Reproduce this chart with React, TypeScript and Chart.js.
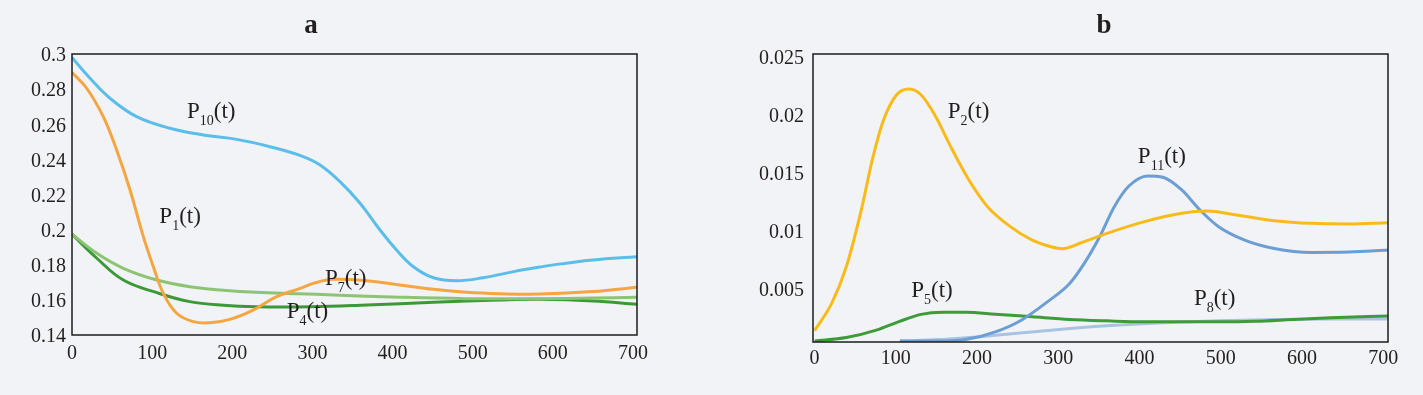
import React, { useEffect, useRef } from "react";
import { Chart, registerables } from "chart.js";

Chart.register(...registerables);

// ---------- tick labels ----------
const xTicks = [0, 100, 200, 300, 400, 500, 600, 700];
const yTicksA = [0.14, 0.16, 0.18, 0.2, 0.22, 0.24, 0.26, 0.28, 0.3];
const yTicksB = [0.005, 0.01, 0.015, 0.02, 0.025];

// ---------- panel a series ----------
const p10T = [0, 22.5, 47.4, 80.7, 122.3, 163.8, 205.5, 247, 286, 309.5, 334.4, 359.4, 384.3, 405, 426, 451, 480, 513, 551, 584, 610, 650, 705];
const p10V = [0.298, 0.2862, 0.2748, 0.2643, 0.2577, 0.2539, 0.2514, 0.2472, 0.242, 0.2368, 0.2273, 0.215, 0.1998, 0.1884, 0.1789, 0.1726, 0.1709, 0.1726, 0.1761, 0.1787, 0.1805, 0.1827, 0.1846];

const p1T = [0, 18.3, 39, 55.7, 72.4, 89, 101.5, 114, 130.6, 151.4, 172.2, 197, 226, 255.4, 284.5, 301, 326, 367.7, 409, 451, 492.5, 534, 584, 650, 705];
const p1V = [0.2895, 0.2805, 0.2643, 0.2453, 0.2226, 0.196, 0.1789, 0.1637, 0.1524, 0.1476, 0.147, 0.1489, 0.1542, 0.1618, 0.1665, 0.1694, 0.1717, 0.1709, 0.1685, 0.166, 0.1643, 0.1635, 0.1633, 0.1647, 0.1672];

const p7T = [0, 31, 64, 106, 147, 189, 230, 284, 326, 409, 492, 584, 650, 705];
const p7V = [0.1974, 0.1865, 0.178, 0.1713, 0.1675, 0.1655, 0.1643, 0.1635, 0.1628, 0.1615, 0.1607, 0.1607, 0.161, 0.1615];

const p4T = [0, 31, 64, 106, 147, 189, 230, 297, 368, 451, 534, 584, 650, 705];
const p4V = [0.1974, 0.1837, 0.1713, 0.1641, 0.159, 0.1569, 0.1561, 0.1561, 0.1571, 0.1586, 0.1599, 0.1603, 0.1594, 0.1575];

// ---------- panel b series ----------
const p2T = [0, 21, 39, 57.5, 71, 85, 101, 116, 131, 149, 167.5, 190, 213, 241, 268, 291, 305, 328, 360, 406, 452, 484, 520, 566, 612, 658, 706];
const p2V = [0.0016, 0.00394, 0.0071, 0.012, 0.01631, 0.01976, 0.02192, 0.02241, 0.02192, 0.02005, 0.01746, 0.01458, 0.01228, 0.01056, 0.0094, 0.00883, 0.00866, 0.00917, 0.00998, 0.01099, 0.01171, 0.01191, 0.01156, 0.01107, 0.01084, 0.01079, 0.0109];

const p11T = [105, 154, 186, 222.5, 254.5, 286.6, 314, 332, 351, 369, 387, 410, 429, 452, 474.5, 497.5, 529.5, 566, 612, 658, 706];
const p11V = [0.0007, 0.0007, 0.00083, 0.00149, 0.0025, 0.00408, 0.00566, 0.00739, 0.00969, 0.01228, 0.01406, 0.01493, 0.01481, 0.01372, 0.01199, 0.01055, 0.0094, 0.00868, 0.00834, 0.00837, 0.00854];

const p5T = [0, 39, 76, 103, 131, 158, 186, 222.5, 268, 314, 360, 406, 452, 497, 543, 589, 635, 706];
const p5V = [0.0007, 0.001, 0.00164, 0.00235, 0.003, 0.00318, 0.00318, 0.00302, 0.00279, 0.00256, 0.00244, 0.00236, 0.00236, 0.00236, 0.00241, 0.00256, 0.0027, 0.00287];

const p8T = [105, 154, 222.5, 291, 360, 429, 497, 566, 635, 706];
const p8V = [0.0007, 0.00083, 0.0012, 0.00164, 0.00201, 0.00227, 0.00244, 0.00256, 0.00261, 0.00261];

// ---------- curve labels (subscript, anchor in data units) ----------
const labelsA = [
  { sub: "10", t: 143.5, v: 0.2638 },
  { sub: "1", t: 109, v: 0.2036 },
  { sub: "7", t: 315.7, v: 0.1685 },
  { sub: "4", t: 268, v: 0.1495 },
];
const labelsB = [
  { sub: "2", t: 164, v: 0.01993 },
  { sub: "11", t: 398, v: 0.01602 },
  { sub: "5", t: 119, v: 0.00451 },
  { sub: "8", t: 467, v: 0.00379 },
];

const FONT = '"Liberation Serif", "DejaVu Serif", serif';
const TEXT = "#231f20";
const BG = "#f2f3f6";

const pts = (t: number[], v: number[]) => t.map((x, i) => ({ x, y: v[i] }));

const line = (label: string, t: number[], v: number[], color: string, smooth: "default" | "monotone") => ({
  label,
  data: pts(t, v),
  borderColor: color,
  backgroundColor: color,
  borderWidth: 3,
  pointRadius: 0,
  fill: false,
  tension: 0.4,
  cubicInterpolationMode: smooth,
});

function decor(title: string, titleX: number, labels: { sub: string; t: number; v: number }[]) {
  return {
    id: "decor" + title,
    afterDatasetsDraw(chart: any) {
      const { ctx, chartArea, scales } = chart;
      const { left, top, right, bottom } = chartArea;
      ctx.save();
      ctx.strokeStyle = "#1c1c1c";
      ctx.lineWidth = 1.5;
      ctx.strokeRect(left, top, right - left, bottom - top);
      ctx.fillStyle = TEXT;
      ctx.textBaseline = "alphabetic";
      ctx.textAlign = "left";
      for (const l of labels) {
        let px = scales.x.getPixelForValue(l.t);
        const py = scales.y.getPixelForValue(l.v);
        ctx.font = `23px ${FONT}`;
        ctx.fillText("P", px, py);
        px += ctx.measureText("P").width;
        ctx.font = `14px ${FONT}`;
        ctx.fillText(l.sub, px, py + 7);
        px += ctx.measureText(l.sub).width;
        ctx.font = `23px ${FONT}`;
        ctx.fillText("(t)", px, py);
      }
      ctx.font = `bold 27px ${FONT}`;
      ctx.textAlign = "center";
      ctx.fillText(title, titleX, 33);
      ctx.restore();
    },
  };
}

function makeOptions(p: {
  padRight: number;
  top: number;
  axisW: number;
  axisH: number;
  xMin: number;
  xMax: number;
  yMin: number;
  yMax: number;
  yTicks: number[];
  xPad: number;
  yPad: number;
  yLabelOffset: number;
}) {
  return {
    animation: false,
    responsive: false,
    events: [],
    layout: { padding: { left: 0, top: p.top, right: p.padRight, bottom: 0 } },
    plugins: { legend: { display: false }, tooltip: { enabled: false }, title: { display: false } },
    scales: {
      x: {
        type: "linear",
        min: p.xMin,
        max: p.xMax,
        grid: { display: false, drawTicks: false },
        border: { display: false },
        ticks: {
          padding: p.xPad,
          color: TEXT,
          font: { family: FONT, size: 20 },
          maxRotation: 0,
          callback: (v: number) => String(v),
        },
        afterBuildTicks: (s: any) => {
          s.ticks = xTicks.map((value) => ({ value }));
        },
        afterFit: (s: any) => {
          s.height = p.axisH;
        },
      },
      y: {
        type: "linear",
        min: p.yMin,
        max: p.yMax,
        grid: { display: false, drawTicks: false },
        border: { display: false },
        ticks: {
          padding: p.yPad,
          labelOffset: p.yLabelOffset,
          color: TEXT,
          font: { family: FONT, size: 20 },
          callback: (v: number) => String(+v.toFixed(4)),
        },
        afterBuildTicks: (s: any) => {
          s.ticks = p.yTicks.map((value) => ({ value }));
        },
        afterFit: (s: any) => {
          s.width = p.axisW;
        },
      },
    },
  };
}

export default function App() {
  const refA = useRef<HTMLCanvasElement>(null);
  const refB = useRef<HTMLCanvasElement>(null);

  useEffect(() => {
    document.body.style.background = BG;
    const chartA = new Chart(refA.current as HTMLCanvasElement, {
      type: "line",
      data: {
        datasets: [
          line("P10(t)", p10T, p10V, "#5bbdea", "default"),
          line("P1(t)", p1T, p1V, "#f5a542", "default"),
          line("P7(t)", p7T, p7V, "#8cc474", "default"),
          line("P4(t)", p4T, p4V, "#3b9a37", "default"),
        ],
      },
      options: makeOptions({
        padRight: 74,
        top: 54,
        axisW: 72,
        axisH: 60,
        xMin: 0,
        xMax: 705,
        yMin: 0.14,
        yMax: 0.3,
        yTicks: yTicksA,
        xPad: 7,
        yPad: 6,
        yLabelOffset: 2,
      }) as any,
      plugins: [decor("a", 311, labelsA)],
    });
    const chartB = new Chart(refB.current as HTMLCanvasElement, {
      type: "line",
      data: {
        datasets: [
          line("P2(t)", p2T, p2V, "#f8bb1b", "monotone"),
          line("P11(t)", p11T, p11V, "#6b9fd4", "monotone"),
          line("P5(t)", p5T, p5V, "#3d9c39", "monotone"),
          line("P8(t)", p8T, p8V, "#a9c3e3", "monotone"),
        ],
      },
      options: makeOptions({
        padRight: 35,
        top: 54,
        axisW: 102,
        axisH: 53,
        xMin: -2,
        xMax: 706,
        yMin: 0.00062,
        yMax: 0.02543,
        yTicks: yTicksB,
        xPad: 5,
        yPad: 9,
        yLabelOffset: 0,
      }) as any,
      plugins: [decor("b", 393, labelsB)],
    });
    return () => {
      chartA.destroy();
      chartB.destroy();
    };
  }, []);

  return (
    <div
      style={{
        position: "absolute",
        left: 0,
        top: 0,
        width: 1423,
        height: 395,
        background: BG,
        overflow: "hidden",
      }}
    >
      <canvas ref={refA} width={711} height={395} style={{ position: "absolute", left: 0, top: 0 }} />
      <canvas ref={refB} width={712} height={395} style={{ position: "absolute", left: 711, top: 0 }} />
    </div>
  );
}
